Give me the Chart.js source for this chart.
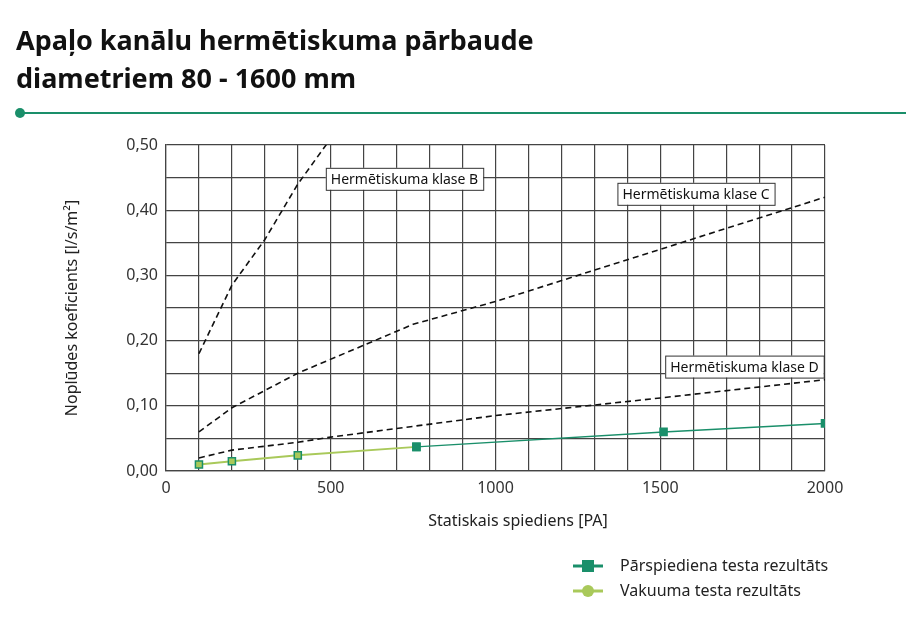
<!DOCTYPE html>
<html>
<head>
<meta charset="utf-8">
<script src="https://cdn.jsdelivr.net/npm/chart.js@4.4.1/dist/chart.umd.min.js"></script>
<style>
  html, body { margin: 0; padding: 0; background: #fff; }
  #wrap { width: 922px; height: 618px; position: relative; }
</style>
</head>
<body>
<div id="wrap"><canvas id="chart" width="922" height="618"></canvas></div>
<script>
// Leakage class limits (dashed) and test results
const classBPressure = [100, 200, 300, 400, 500];
const classBValues   = [0.18, 0.285, 0.355, 0.44, 0.51];
const classCPressure = [100, 200, 400, 750, 1000, 1500, 2000];
const classCValues   = [0.06, 0.097, 0.15, 0.225, 0.26, 0.34, 0.42];
const classDPressure = [100, 200, 400, 500, 1000, 1500, 2000];
const classDValues   = [0.02, 0.032, 0.044, 0.052, 0.085, 0.112, 0.14];
const overPressure   = [760, 1510, 2000];
const overValues     = [0.037, 0.06, 0.073];
const vacPressure    = [100, 200, 400, 760];
const vacValues      = [0.01, 0.015, 0.024, 0.037];

const GREEN = '#1a8f6a';
const LIGHT = '#a9c95a';
const pts = (xs, ys) => xs.map((x, i) => ({ x, y: ys[i] }));

const dashed = (data) => ({
  data, showLine: true, borderColor: '#111', borderWidth: 1.6,
  borderDash: [6, 4], pointRadius: 0, fill: false
});

// Title, rule, axis titles, class labels and legend
const decor = {
  id: 'decor',
  afterDraw(chart) {
    const c = chart.ctx, x = chart.scales.x, y = chart.scales.y;
    c.save();
    c.fillStyle = '#111';
    c.font = 'bold 27px "Noto Sans"';
    c.textBaseline = 'alphabetic';
    c.fillText('Apaļo kanālu hermētiskuma pārbaude', 16, 50);
    c.fillText('diametriem 80 - 1600 mm', 16, 88);
    c.strokeStyle = GREEN; c.lineWidth = 2;
    c.beginPath(); c.moveTo(20, 113); c.lineTo(906, 113); c.stroke();
    c.fillStyle = GREEN;
    c.beginPath(); c.arc(20, 113, 5, 0, Math.PI * 2); c.fill();

    // axis titles
    c.fillStyle = '#222';
    c.font = '16px "Noto Sans"';
    c.textAlign = 'center'; c.textBaseline = 'middle';
    c.fillText('Statiskais spiediens [PA]', 518, 521);
    c.save();
    c.translate(72, 308); c.rotate(-Math.PI / 2);
    c.fillText('Noplūdes koeficients [l/s/m²]', 0, 0);
    c.restore();
    c.textAlign = 'left';

    const box = (txt, px, py) => {
      c.font = '14px "Noto Sans"';
      const w = c.measureText(txt).width + 10;
      c.fillStyle = '#fff'; c.fillRect(px, py, w, 22);
      c.strokeStyle = '#333'; c.lineWidth = 1; c.strokeRect(px + 0.5, py + 0.5, w, 22);
      c.fillStyle = '#111'; c.textBaseline = 'middle';
      c.fillText(txt, px + 5, py + 12);
    };
    box('Hermētiskuma klase B', x.getPixelForValue(485), y.getPixelForValue(0.465));
    box('Hermētiskuma klase C', x.getPixelForValue(1370), y.getPixelForValue(0.442));
    box('Hermētiskuma klase D', x.getPixelForValue(1515), y.getPixelForValue(0.177));

    const legend = (ly, col, fillCol, round, txt) => {
      c.strokeStyle = col; c.lineWidth = 3;
      c.beginPath(); c.moveTo(573, ly); c.lineTo(603, ly); c.stroke();
      c.fillStyle = fillCol;
      if (round) { c.beginPath(); c.arc(588, ly, 6, 0, Math.PI * 2); c.fill(); }
      else c.fillRect(582, ly - 6, 12, 12);
      c.fillStyle = '#222'; c.font = '16px "Noto Sans"'; c.textBaseline = 'middle';
      c.fillText(txt, 620, ly);
    };
    legend(566, GREEN, GREEN, false, 'Pārspiediena testa rezultāts');
    legend(591, LIGHT, LIGHT, true, 'Vakuuma testa rezultāts');
    c.restore();
  }
};

new Chart(document.getElementById('chart'), {
  type: 'scatter',
  data: {
    datasets: [
      dashed(pts(classBPressure, classBValues)),
      dashed(pts(classCPressure, classCValues)),
      dashed(pts(classDPressure, classDValues)),
      {
        data: pts(overPressure, overValues), showLine: true,
        borderColor: GREEN, borderWidth: 1.5, pointStyle: 'rect',
        pointRadius: 5, pointBackgroundColor: GREEN, pointBorderColor: GREEN
      },
      {
        data: pts(vacPressure, vacValues), showLine: true,
        borderColor: LIGHT, borderWidth: 2, pointStyle: 'rect',
        pointRadius: 5, pointBackgroundColor: LIGHT, pointBorderColor: GREEN,
        pointBorderWidth: 1.5
      }
    ]
  },
  options: {
    responsive: false,
    animation: false,
    layout: { padding: { top: 145, right: 97, left: 0, bottom: 0 } },
    plugins: { legend: { display: false }, tooltip: { enabled: false } },
    scales: {
      x: {
        type: 'linear', min: 0, max: 2000,
        grid: { color: '#444', lineWidth: 1.2, drawTicks: false },
        border: { color: '#444', width: 1.2 },
        ticks: {
          stepSize: 100, autoSkip: false, color: '#333', padding: 8,
          maxRotation: 0, minRotation: 0,
          font: { size: 16, family: '"Noto Sans"' },
          callback: (v) => v % 500 === 0 ? String(v) : ''
        },
        afterFit: (s) => { s.height = 147; }
      },
      y: {
        min: 0, max: 0.5,
        grid: { color: '#444', lineWidth: 1.2, drawTicks: false },
        border: { color: '#444', width: 1.2 },
        ticks: {
          stepSize: 0.05, autoSkip: false, color: '#333', padding: 8,
          font: { size: 16, family: '"Noto Sans"' },
          callback: (v) => Math.round(v * 100) % 10 === 0 ? v.toFixed(2).replace('.', ',') : ''
        },
        afterFit: (s) => { s.width = 166; }
      }
    }
  },
  plugins: [decor]
});
</script>
</body>
</html>
